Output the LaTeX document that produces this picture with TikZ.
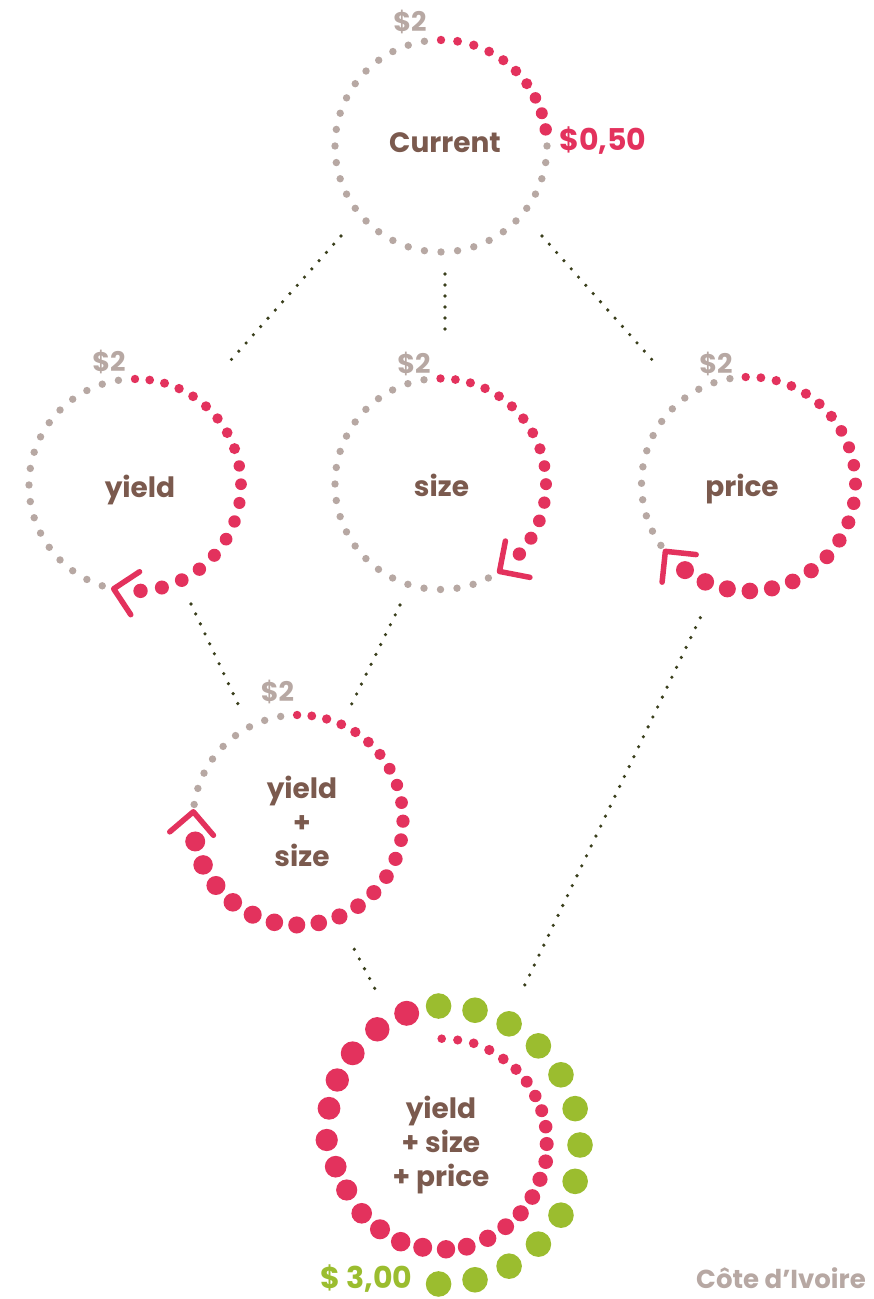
\documentclass[tikz,border=0pt]{standalone}
\usepackage{fontspec}
\setmainfont{Poppins}
\usetikzlibrary{calc}
\definecolor{tagred}{HTML}{E3325D}
\definecolor{ringgray}{HTML}{B7A8A3}
\definecolor{textbrown}{HTML}{7B5A4E}
\definecolor{leafgreen}{HTML}{9BBD2F}
\definecolor{linkolive}{HTML}{3A3F1C}
\tikzset{
  ring/.style = {circle, minimum size=212pt, inner sep=0pt},
  circlabel/.style = {text=textbrown, font=\bfseries\fontsize{28}{34}\selectfont, align=center},
  tag/.style = {font=\bfseries\fontsize{27}{30}\selectfont},
  bigtag/.style = {font=\bfseries\fontsize{30}{34}\selectfont},
  link/.style = {draw=linkolive, line width=3.6pt, line cap=round, dash pattern=on 0pt off 11pt},
  chevron/.style = {draw=tagred, line width=5.5pt, line cap=round, line join=round}
}
% dots along a ring: centre, radius, from, to, number, first size, last size, growth, colour
\newcommand{\dotarc}[9]{%
  \foreach \i in {1,...,#5} {
    \pgfmathsetmacro{\t}{(\i-1)/(#5-1)}
    \pgfmathsetmacro{\ang}{#3+(#4-#3)*(\t+#8*\t*\t)/(1+#8)}
    \pgfmathsetmacro{\sz}{#6+(#7-#6)*\t}
    \fill[#9] ($(#1)+(\ang:#2)$) circle (\sz pt);
  }}
% arrow head on a ring: centre, radius, angle
\newcommand{\chevronat}[3]{%
  \draw[chevron] ($(#1)+(#3:#2)+(#3+45:31)$) -- ($(#1)+(#3:#2)$) -- ($(#1)+(#3:#2)+(#3+135:31)$);}

\begin{document}
\begin{tikzpicture}[x=1pt, y=1pt]
  \useasboundingbox (0,0) rectangle (874,1299);
  \clip (0,0) rectangle (874,1299);

  % Place the rings
  \node [ring] (cur)   at (441,1153)  {};
  \node [ring] (yield) at (135,814)   {};
  \node [ring] (size)  at (440.5,815) {};
  \node [ring] (price) at (748.5,815) {};
  \node [ring] (ys)    at (298,479)   {};
  \node [ring] (total) at (441,154)   {};

  % Texts
  \node [circlabel] (curtxt)   at (445,1156)  {Current};
  \node [circlabel] (yieldtxt) at (140,809.3) {yield};
  \node [circlabel] (sizetxt)  at (441.5,813.7) {size};
  \node [circlabel] (pricetxt) at (742,810)   {price};
  \node [circlabel] (ystxt)    at (302,478)   {yield\\+\\size};
  \node [circlabel] (totaltxt) at (441,153.5) {yield\\+ size\\+ price};

  \node [tag, text=ringgray] (curtag)   at (410,1277)   {\$2};
  \node [tag, text=ringgray] (yieldtag) at (109,937)    {\$2};
  \node [tag, text=ringgray] (sizetag)  at (414,935)    {\$2};
  \node [tag, text=ringgray] (pricetag) at (716,935)    {\$2};
  \node [tag, text=ringgray] (ystag)    at (277.5,607.3) {\$2};
  \node [bigtag, text=tagred, anchor=west] (curgain) at (556,1158) {\$0,50};
  \node [bigtag, text=leafgreen, anchor=base west, inner sep=0pt] (totalgain) at (320,10) {\$ 3,00};
  \node [font=\bfseries\fontsize{26}{30}\selectfont, text=ringgray, anchor=base west, inner sep=0pt]
    (country) at (696,10) {Côte d’Ivoire};

  % Draw the dotted links
  \draw [link] ($(cur)+(-100,-90)$)    -- ($(yield)+(96,125)$);
  \draw [link] ($(cur)+(4,-128)$)      -- ($(size)+(4.5,144)$);
  \draw [link] ($(cur)+(101,-90)$)     -- ($(price)+(-94.5,122)$);
  \draw [link] ($(yield)+(56,-119)$)   -- ($(ys)+(-60,116)$);
  \draw [link] ($(size)+(-40.5,-121)$) -- ($(ys)+(53.7,116)$);
  \draw [link] ($(price)+(-48.2,-133.7)$) -- ($(total)+(83.3,159)$);
  \draw [link] ($(ys)+(56.3,-129.3)$)  -- ($(total)+(-66.3,156.7)$);

  % Current
  \dotarc{cur}{106}{90}{9}{10}{4.2}{6.2}{0}{tagred}
  \dotarc{cur}{106}{0}{-261}{30}{3.7}{3.7}{0}{ringgray}

  % yield
  \dotarc{yield}{106}{90}{-87}{19}{4.2}{7.2}{0.25}{tagred}
  \dotarc{yield}{106}{99}{252}{18}{3.7}{3.7}{0}{ringgray}
  \chevronat{yield}{106}{-101.6}

  % size
  \dotarc{size}{105.5}{90}{-41.6}{15}{4.2}{6.7}{0.17}{tagred}
  \dotarc{size}{105.5}{99}{297}{23}{3.7}{3.7}{0}{ringgray}
  \chevronat{size}{105.5}{-56}

  % price
  \dotarc{price}{107}{91.5}{-126.4}{22}{4.2}{9}{0.29}{tagred}
  \dotarc{price}{107}{100}{215}{14}{3.7}{3.7}{0}{ringgray}
  \chevronat{price}{107}{-141}

  % yield + size
  \dotarc{ys}{105}{90.5}{-168.2}{25}{4.2}{10}{0.36}{tagred}
  \dotarc{ys}{105}{99.5}{171.5}{9}{3.7}{3.7}{0}{ringgray}
  \chevronat{ys}{105}{175.5}

  % yield + size + price
  \foreach \x/\y [count=\i] in {406.7/285.7, 377.3/269.7, 352.7/245.7, 337.3/219, 329/190.7,
      326.7/159, 335.7/132.3, 346.7/109, 361.7/85.7, 380/69.7, 400.7/57.3, 422.7/51.7,
      446/49.7, 466.7/52.3, 487.7/60.7, 505.7/72.3, 520.7/85.7, 532.3/102, 540/119.7,
      545.7/137.3, 546.7/155, 545.7/172.3, 541.7/188.3, 535.3/203, 526.7/217.3,
      516/229.7, 503.3/240, 489.3/249, 473.7/255.7, 457.7/259, 441.7/260.3} {
    \pgfmathsetmacro{\sz}{12.5-8.2*(\i-1)/30}
    \fill[tagred] (\x,\y) circle (\sz pt);
  }
  \dotarc{total}{139}{91}{-91}{13}{12.8}{12.8}{0}{leafgreen}

\end{tikzpicture}
\end{document}
